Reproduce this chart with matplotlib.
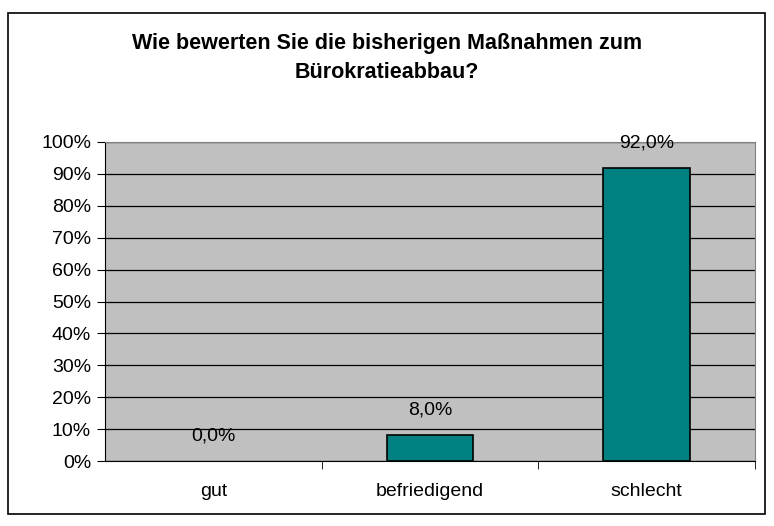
import matplotlib.pyplot as plt
from matplotlib.patches import Rectangle

# Daten
kategorien = ["gut", "befriedigend", "schlecht"]
werte = [0.0, 8.0, 92.0]
ticks_y = [0, 10, 20, 30, 40, 50, 60, 70, 80, 90, 100]

plt.rcParams["font.family"] = ["Liberation Sans", "DejaVu Sans"]

fig = plt.figure(figsize=(7.74, 5.26), dpi=100)
ax = fig.add_axes([105 / 774, 1 - 461 / 526, 650 / 774, 319 / 526])

# Rahmen um die ganze Grafik
fig.patches.append(Rectangle((8 / 774, 1 - 514 / 526), 757 / 774, 501 / 526,
                             transform=fig.transFigure, fill=False,
                             edgecolor="black", linewidth=1.2))

ax.set_facecolor("#c0c0c0")
x = range(len(kategorien))
balken = ax.bar(x, werte, width=0.4, color="#008080", edgecolor="black",
                linewidth=[1.2 if w > 0 else 0 for w in werte], zorder=3)

for xi, w in zip(x, werte):
    ax.annotate(f"{w:.1f}%".replace(".", ","), (xi, w), xytext=(0, 18),
                textcoords="offset points", ha="center", va="center",
                fontsize=14, zorder=4)

ax.set_xlim(-0.5, 2.5)
ax.set_ylim(0, 100)
ax.set_yticks(ticks_y)
ax.set_yticklabels([f"{t}%" for t in ticks_y], fontsize=14)
ax.yaxis.grid(True, color="black", linewidth=0.9, zorder=1)
ax.set_axisbelow(True)

ax.set_xticks(list(x))
ax.set_xticklabels(kategorien, fontsize=14)
ax.tick_params(axis="x", length=0, pad=16)
ax.set_xticks([0.5, 1.5, 2.5], minor=True)
ax.tick_params(axis="x", which="minor", length=6, color="black", direction="out")
ax.tick_params(axis="y", length=6, color="black", direction="out", pad=4)

for s in ["top", "right"]:
    ax.spines[s].set_color("#808080")
ax.spines["left"].set_color("black")
ax.spines["bottom"].set_color("black")

fig.text(0.5, 1 - 58 / 526, "Wie bewerten Sie die bisherigen Maßnahmen zum\nBürokratieabbau?",
         ha="center", va="center", fontsize=15.5, fontweight="bold", linespacing=1.45)

fig.savefig("out.png", dpi=100, facecolor="white")
